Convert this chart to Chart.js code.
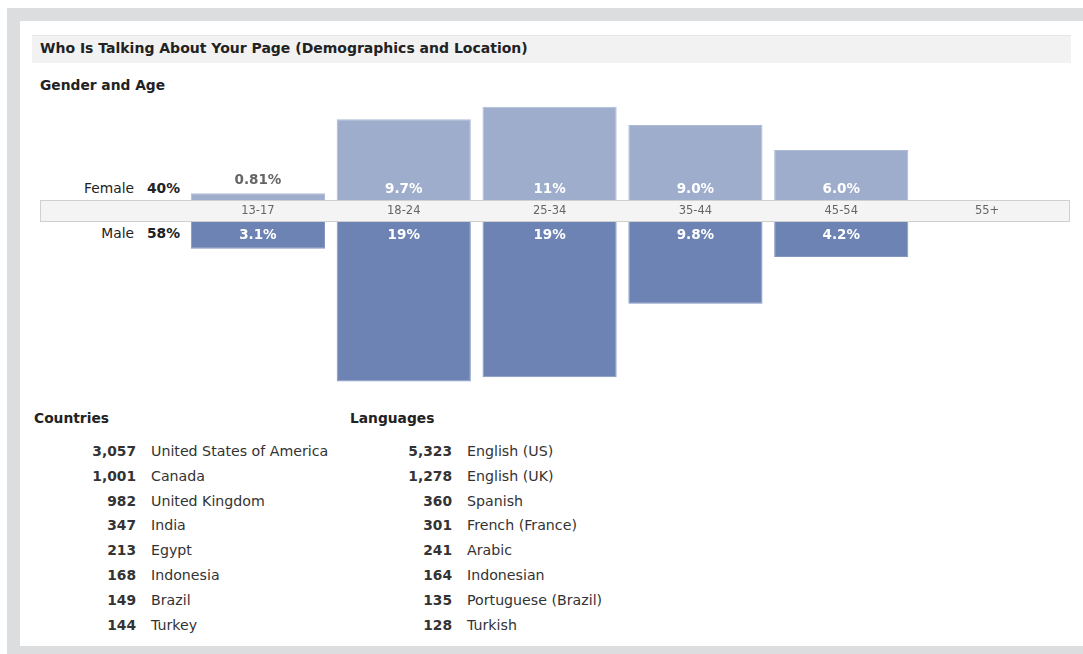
<!DOCTYPE html>
<html>
<head>
<meta charset="utf-8">
<script src="https://cdn.jsdelivr.net/npm/chart.js@4.4.1/dist/chart.umd.min.js"></script>
<style>
    html, body { margin: 0; padding: 0; background: #fff; }
    body { width: 1083px; height: 654px; position: relative; overflow: hidden; font-family: "DejaVu Sans", sans-serif; color: #333; }
    .frame { position: absolute; left: 7px; top: 8px; width: 1090px; height: 660px; background: #dcdddf; }
    .panel { position: absolute; left: 20px; top: 21px; width: 1080px; height: 625px; background: #fff; }
    .titlebar { position: absolute; left: 32px; top: 35px; width: 1039px; height: 28px; background: #f2f2f2; border-top: 1px solid #e6e6e6; box-sizing: border-box; }
    .titlebar span { position: absolute; left: 8px; top: 4px; font-size: 14px; font-weight: bold; color: #222; }
    .h { position: absolute; font-size: 13.8px; font-weight: bold; color: #222; }
    .side { position: absolute; font-size: 13.8px; color: #222; text-align: right; width: 140px; }
    .side b { display: inline-block; width: 33px; text-align: left; margin-left: 13px; }
    canvas { display: block; }
    .wrap { position: absolute; }
    .list { position: absolute; font-size: 14.2px; }
    .row { height: 24.8px; line-height: 24.8px; white-space: nowrap; }
    .row .n { display: inline-block; text-align: right; font-weight: bold; color: #333; font-size: 13.8px; }
    .row .t { margin-left: 15px; color: #333; }
</style>
</head>
<body>
<div class="frame"></div>
<div class="panel"></div>
<div class="titlebar"><span>Who Is Talking About Your Page (Demographics and Location)</span></div>
<div class="h" style="left:40px;top:77px;">Gender and Age</div>
<div class="side" style="left:40px;top:180px;">Female<b>40%</b></div>
<div class="side" style="left:40px;top:225px;">Male<b>58%</b></div>
<div class="wrap" style="left:40px;top:100px;width:1030px;height:100px;"><canvas id="femaleChart"></canvas></div>
<div class="wrap" style="left:40px;top:200px;width:1030px;height:189px;"><canvas id="maleChart"></canvas></div>
<div class="h" style="left:34px;top:410px;">Countries</div>
<div class="h" style="left:350px;top:410px;">Languages</div>
<div class="list" id="countries" style="left:36px;top:439px;"></div>
<div class="list" id="languages" style="left:352px;top:439px;"></div>
<script>
const ageGroups = ['13-17', '18-24', '25-34', '35-44', '45-54', '55+'];
const femaleValues = [0.81, 9.7, 11.2, 9.0, 6.0, 0];
const femaleLabels = ['0.81%', '9.7%', '11%', '9.0%', '6.0%', ''];
const maleValues = [3.2, 19.1, 18.6, 9.8, 4.2, 0];
const maleLabels = ['3.1%', '19%', '19%', '9.8%', '4.2%', ''];

const countryCounts = ['3,057', '1,001', '982', '347', '213', '168', '149', '144'];
const countryNames = ['United States of America', 'Canada', 'United Kingdom', 'India', 'Egypt', 'Indonesia', 'Brazil', 'Turkey'];
const languageCounts = ['5,323', '1,278', '360', '301', '241', '164', '135', '128'];
const languageNames = ['English (US)', 'English (UK)', 'Spanish', 'French (France)', 'Arabic', 'Indonesian', 'Portuguese (Brazil)', 'Turkish'];

function fillList(id, counts, names) {
    const box = document.getElementById(id);
    counts.forEach((c, i) => {
        const row = document.createElement('div');
        row.className = 'row';
        row.innerHTML = '<span class="n" style="width:100px">' + c + '</span><span class="t">' + names[i] + '</span>';
        box.appendChild(row);
    });
}
fillList('countries', countryCounts, countryNames);
fillList('languages', languageCounts, languageNames);

const FEMALE = '#9eadcc';
const MALE = '#6d83b3';

// labels drawn on the bars
const barLabels = {
    id: 'barLabels',
    afterDatasetsDraw(chart, args, opts) {
        const ctx = chart.ctx;
        const meta = chart.getDatasetMeta(0);
        ctx.save();
        ctx.font = 'bold 13.5px "DejaVu Sans"';
        ctx.textAlign = 'center';
        ctx.textBaseline = 'middle';
        meta.data.forEach((bar, i) => {
            const txt = opts.labels[i];
            if (!txt) return;
            const h = Math.abs(bar.base - bar.y);
            if (opts.side === 'top') {
                if (h > 20) {
                    ctx.fillStyle = '#fff';
                    ctx.fillText(txt, bar.x, bar.base - 11);
                } else {
                    ctx.fillStyle = '#666';
                    ctx.fillText(txt, bar.x, bar.y - 13);
                }
            } else {
                ctx.fillStyle = '#fff';
                ctx.fillText(txt, bar.x, bar.base + 13);
            }
        });
        ctx.restore();
    }
};

// the grey band behind the age labels
const band = {
    id: 'band',
    beforeDraw(chart) {
        const ctx = chart.ctx;
        const xa = chart.scales.x;
        ctx.save();
        ctx.fillStyle = '#f4f4f4';
        ctx.fillRect(0, xa.top, chart.width, xa.bottom - xa.top);
        ctx.strokeStyle = '#d0d0d0';
        ctx.lineWidth = 1;
        ctx.strokeRect(0.5, xa.top + 0.5, chart.width - 1, xa.bottom - xa.top - 1);
        ctx.restore();
    }
};

const common = {
    responsive: true,
    maintainAspectRatio: false,
    animation: false,
    layout: { padding: { left: 145, right: 10, top: 0, bottom: 0 } },
    plugins: { legend: { display: false }, tooltip: { enabled: false } }
};

new Chart(document.getElementById('femaleChart'), {
    type: 'bar',
    data: {
        labels: ageGroups,
        datasets: [{
            data: femaleValues,
            backgroundColor: FEMALE,
            borderColor: '#aebbd6',
            borderWidth: { top: 1, left: 1, right: 1, bottom: 0 },
            categoryPercentage: 1,
            barPercentage: 0.92
        }]
    },
    options: {
        ...common,
        scales: {
            x: { display: false },
            y: { display: false, min: 0, max: 12 }
        },
        plugins: { ...common.plugins, barLabels: { labels: femaleLabels, side: 'top' } }
    },
    plugins: [barLabels]
});

new Chart(document.getElementById('maleChart'), {
    type: 'bar',
    data: {
        labels: ageGroups,
        datasets: [{
            data: maleValues,
            backgroundColor: MALE,
            borderColor: '#8397c2',
            borderWidth: { top: 0, left: 1, right: 1, bottom: 1 },
            categoryPercentage: 1,
            barPercentage: 0.92
        }]
    },
    options: {
        ...common,
        scales: {
            x: {
                position: 'top',
                grid: { display: false, drawTicks: false, tickLength: 0 },
                border: { display: false },
                ticks: { color: '#666', font: { family: 'DejaVu Sans', size: 11.5 }, padding: 4 },
                afterFit(axis) { axis.height = 22; }
            },
            y: { display: false, min: 0, max: 20, reverse: true }
        },
        plugins: { ...common.plugins, barLabels: { labels: maleLabels, side: 'bottom' } }
    },
    plugins: [band, barLabels]
});
</script>
</body>
</html>
